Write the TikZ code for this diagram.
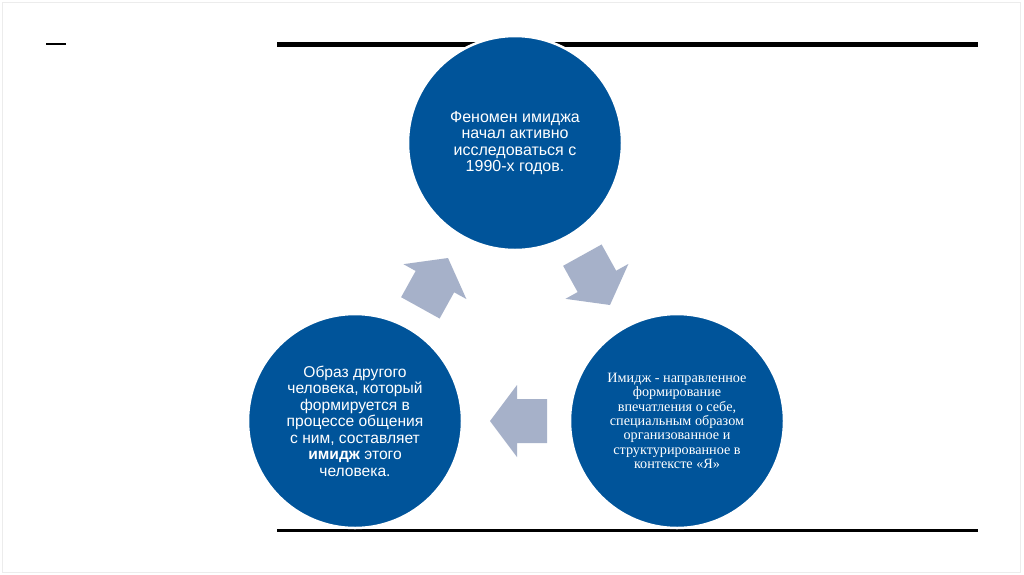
\documentclass[tikz,border=0pt]{standalone}
\usepackage{fontspec}
\setmainfont{Liberation Sans}
\newfontfamily\serifru{Liberation Serif}
\definecolor{circblue}{RGB}{0,84,154}
\definecolor{arrowgray}{RGB}{166,177,201}
\definecolor{framegray}{RGB}{236,236,236}
\tikzset{
  bubble/.style={circle, fill=circblue, draw=white, line width=2.5pt, minimum size=214pt, inner sep=0pt, text=white, align=center},
  blockarrowfill/.style={fill=arrowgray},
  rule/.style={draw=black}
}
\newcommand\blockarrowat[3]{%
  \fill[blockarrowfill, shift={(#1,#2)}, rotate=#3]
    (0,0) -- (-27,36) -- (-27,22) -- (-57,22) -- (-57,-22) -- (-27,-22) -- (-27,-36) -- cycle;}
\begin{document}
\begin{tikzpicture}[x=1pt,y=-1pt]
\useasboundingbox (0,0) rectangle (1024,574);
\fill[white] (0,0) rectangle (1024,574);
\draw[framegray, line width=1pt] (2,2) rectangle (1020,572);
% rules
\coordinate (dashL) at (46,44);
\coordinate (dashR) at (66,44);
\draw[rule, line width=2pt] (dashL) -- (dashR);
\coordinate (topL) at (277,44.5);
\coordinate (topR) at (978,44.5);
\draw[rule, line width=4.5pt] (topL) -- (topR);
\coordinate (botL) at (277,530.5);
\coordinate (botR) at (978,530.5);
\draw[rule, line width=3pt] (botL) -- (botR);
% circles
\node[bubble, font=\fontsize{16}{16.4}\selectfont] (top) at (515,143)
  {Феномен имиджа\\начал активно\\исследоваться с\\1990-х годов.};
\node[bubble, font=\serifru\fontsize{14.2}{14.4}\selectfont] (right) at (677,421)
  {Имидж - направленное\\формирование\\впечатления о себе,\\специальным образом\\организованное и\\структурированное в\\контексте «Я»};
\node[bubble, font=\fontsize{15.6}{16.5}\selectfont] (left) at (355,421)
  {Образ другого\\человека, который\\формируется в\\процессе общения\\с ним, составляет\\\textbf{имидж} этого\\человека.};
% block arrows
\blockarrowat{448}{258}{61}
\blockarrowat{610}{305}{-61}
\blockarrowat{490}{421}{180}
\end{tikzpicture}
\end{document}
